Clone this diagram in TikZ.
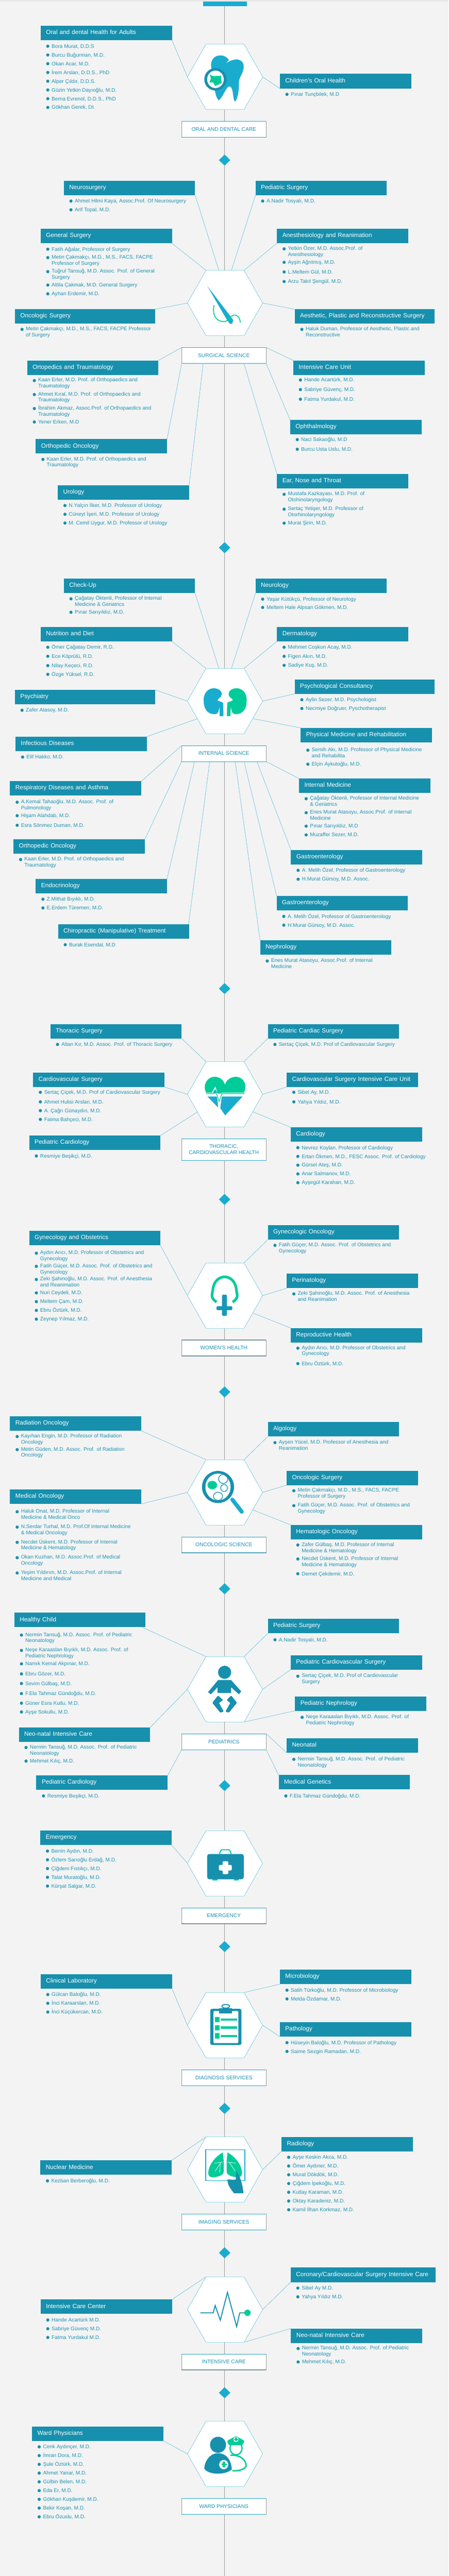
\documentclass[tikz,border=0pt]{standalone}
\usepackage{fontspec}
\setmainfont{Liberation Sans}
\usetikzlibrary{shapes.geometric}
\definecolor{bgc}{HTML}{F3F3F3}
\definecolor{stripc}{HTML}{E8E8E8}
\definecolor{deptc}{HTML}{1790AE}
\definecolor{bluec}{HTML}{1AACCF}
\definecolor{greenc}{HTML}{00CC99}
\definecolor{linkc}{HTML}{5BBFDC}
\definecolor{hexrule}{HTML}{96DBE9}
\definecolor{itemc}{HTML}{1F93B3}
\definecolor{spinec}{HTML}{9A9A9A}
\definecolor{lblrulec}{HTML}{2AA5C8}
\tikzset{
  deptbox/.style={rectangle,fill=deptc,text=white,inner sep=0pt,inner xsep=12.4pt,minimum height=33pt,
    anchor=north west,align=left,text height=9pt,text depth=3pt,font=\fontsize{13.9}{15}\selectfont,outer sep=0pt},
  itemtext/.style={inner sep=0pt,anchor=north west,align=left,text=itemc,font=\fontsize{11.9}{14}\selectfont,outer sep=0pt},
  lblbox/.style={rectangle,fill=white,draw=spinec,line width=.5pt,inner sep=0pt,minimum width=192.8pt,
    align=center,text=itemc,font=\fontsize{12}{14}\selectfont,outer sep=0pt},
  lblrule/.style={draw=lblrulec,line width=1pt},
  hexside/.style={draw=linkc,line width=.7pt},
  hexcap/.style={draw=hexrule,line width=1.5pt},
  link/.style={draw=linkc,line width=.75pt},
  spine/.style={draw=spinec,line width=.55pt},
  diam/.style={diamond,aspect=1,fill=bluec,minimum width=26pt,minimum height=25.4pt,inner sep=0pt,outer sep=0pt},
  iconscope/.style={shift={(0,#1)},y=-0.33333pt},
}
\newcounter{itmc}
\newcommand\dept[5][300pt]{\def\curx{#3}\pgfmathsetlengthmacro\tw{#1-24.8pt}%
  \node[deptbox,minimum width=#1,text width=\tw] (#2) at (#3,{\yo+#4/3}) {\mbox{#5}};}
\newcommand\itm[2]{\stepcounter{itmc}%
  \fill[deptc] ({\curx+25},{\yo+#1/3}) circle[x radius=5.6,y radius=3.7];
  \node[itemtext] (item\theitmc) at ({\curx+38.5},{\yo+#1/3-8}) {\rule{0pt}{12pt}#2};}
\newcommand\itw[3]{\stepcounter{itmc}%
  \fill[deptc] ({\curx+25},{\yo+#1/3+1.3}) circle[x radius=5.6,y radius=3.7];
  \node[itemtext] (item\theitmc) at ({\curx+38.5},{\yo+#1/3-8}) {\rule{0pt}{12pt}#2\\#3};}
\newcommand\hexa[2]{%
  \coordinate (#1-tl) at (720,#2); \coordinate (#1-tr) at (853,#2);
  \coordinate (#1-r) at (918,{#2+74.8}); \coordinate (#1-l) at (655,{#2+74.8});
  \coordinate (#1-bl) at (720,{#2+149.6}); \coordinate (#1-br) at (853,{#2+149.6});
  \coordinate (#1-t) at (785,#2); \coordinate (#1-b) at (785,{#2+149.6});
  \coordinate (#1-tla) at (765,#2); \coordinate (#1-tra) at (809,#2);
  \coordinate (#1-lla) at (690,{#2+115}); \coordinate (#1-lra) at (885,{#2+115});
  \fill[white] (#1-tl)--(#1-tr)--(#1-r)--(#1-br)--(#1-bl)--(#1-l)--cycle;
  \draw[hexside] (#1-tr)--(#1-r)--(#1-br) (#1-bl)--(#1-l)--(#1-tl);
  \draw[hexcap] (#1-tl)--(#1-tr) (#1-bl)--(#1-br);}
\newcommand\lbl[4][36.4pt]{%
  \node[lblbox,minimum height=#1,anchor=north west] (#2) at (635,#3) {#4};
  \draw[lblrule] (#2.north west)--(#2.north east);
  \draw[lblrule] (#2.south west)--(#2.south east);
  \coordinate (#2-t) at (#2.north -| spinex);
  \coordinate (#2-b) at (#2.south -| spinex);}
\newcommand\dia[2]{\node[diam] (#1) at (785,#2) {};}
\newcommand\lnk[2]{\draw[link] (#1)--(#2);}
\begin{document}
\begin{tikzpicture}[x=0.65370pt,y=-1pt]
\path[use as bounding box] (0,0) rectangle (1568,5889);
\fill[bgc] (0,0) rectangle (1568,5889);
\fill[stripc] (0,0) rectangle (1568,4);
\coordinate (spinex) at (785,0);
\coordinate (spinetop) at (785,14);
\coordinate (spinebot) at (785,5889);
\node[rectangle,fill=bluec,minimum width=100pt,minimum height=10pt,inner sep=0pt,outer sep=0pt,anchor=north west] (topbar) at (710,4) {};

% ---------- ORAL
\def\yo{0}
\hexa{h1}{101}
\lbl{l1}{277}{ORAL AND DENTAL CARE}
\dia{d1}{366}
\dept{oraladult}{142}{177}{Oral and dental Health for Adults}
\itm{317}{Bora Murat, D.D.S}
\itm{377}{Burcu Buğurman, M.D.}
\itm{437}{Okan Acar, M.D.}
\itm{497}{İrem Arslan, D.D.S., PhD}
\itm{557}{Alper Çıldır, D.D.S.}
\itm{617}{Güzin Yetkin Dayıoğlu, M.D.}
\itm{677}{Berna Evrenol, D.D.S., PhD}
\itm{737}{Gökhan Gerek, Dt.}
\lnk{oraladult.south east}{h1-l}
\dept{oralchild}{978}{507}{Children's Oral Health}
\itm{647}{Pınar Tunçbilek, M.D}
\lnk{h1-r}{oralchild.south west}
\begin{scope}[iconscope=0]
\fill[bluec] (738,460) .. controls (735,410) and (750,380) .. (770,380) .. controls (785,380) and (795,395) .. (800,412) -- (788,437) .. controls (800,418) and (820,405) .. (830,408) .. controls (850,415) and (855,445) .. (850,480) .. controls (845,520) and (835,530) .. (835,570) .. controls (836,620) and (830,680) .. (822,696) .. controls (812,690) and (818,600) .. (803,592) .. controls (790,590) and (782,660) .. (765,688) .. controls (758,680) and (752,640) .. (750,610) -- cycle;
\fill[deptc] (753,544) circle[x radius=39,y radius=77];
\fill[white] (753,544) circle[x radius=29,y radius=60];
\fill[greenc] (733,512)--(745,522)--(772,520)--(775,570)--(752,590)--(745,565)--(732,565)--(737,540)--cycle;
\end{scope}

% ---------- SURGICAL
\dept{neuro}{223}{1239}{Neurosurgery}
\itm{1379}{Ahmet Hilmi Kaya, Assoc.Prof. Of Neurosurgery}
\itm{1439}{Arif Topal, M.D.}
\dept{pedsurg}{893}{1239}{Pediatric Surgery}
\itm{1379}{A.Nadir Tosyalı, M.D.}
\def\yo{500}
\hexa{h2}{618}
\lbl{l2}{794.3}{SURGICAL SCIENCE}
\lnk{neuro.south east}{h2-tla}
\lnk{pedsurg.south west}{h2-tra}
\dept{gensurg}{142}{69}{General Surgery}
\itm{209}{Fatih Ağalar, Professor of Surgery}
\itw{263}{Metin Çakmakçı, M.D., M.S., FACS, FACPE}{Professor of Surgery}
\itw{359}{Tuğrul Tansuğ, M.D. Assoc. Prof. of General}{Surgery}
\itm{455}{Attila Çakmak, M.D. General Surgery}
\itm{515}{Ayhan Erdemir, M.D.}
\lnk{gensurg.south east}{h2-tl}
\dept{anest}{968}{69}{Anesthesiology and Reanimation}
\itw{203}{Yetkin Özer, M.D. Assoc.Prof. of}{Anesthesiology}
\itm{299}{Ayşin Ağrıtmış, M.D.}
\itm{365}{L.Meltem Gül, M.D.}
\itm{431}{Arzu Takıl Şengül, M.D.}
\lnk{anest.south west}{h2-tr}
\dept[320pt]{oncsurg}{52}{621}{Oncologic Surgery}
\itw{755}{Metin Çakmakçı, M.D., M.S., FACS, FACPE Professor}{of Surgery}
\lnk{oncsurg.north east}{h2-l}
\dept[320pt]{aesth}{1030}{621}{Aesthetic, Plastic and Reconstructive Surgery}
\itw{755}{Haluk Duman, Professor of Aesthetic, Plastic and}{Reconstructive}
\lnk{aesth.north west}{h2-r}
\dept{ortho}{95}{972}{Ortopedics and Traumatology}
\itw{1106}{Kaan Erler, M.D. Prof. of Orthopaedics and}{Traumatology}
\itw{1202}{Ahmet Kıral, M.D. Prof. of Orthopaedics and}{Traumatology}
\itw{1298}{İbrahim Akmaz, Assoc.Prof. of Orthopaedics and}{Traumatology}
\itm{1394}{Yener Erken, M.D}
\lnk{ortho.north east}{l2.north west}
\dept{icu}{1025}{972}{Intensive Care Unit}
\itm{1106}{Hande Acartürk, M.D.}
\itm{1172}{Sabriye Güvenç, M.D.}
\itm{1238}{Fatma Yurdakul, M.D.}
\lnk{icu.north west}{l2.north east}
\dept{ophth}{1014}{1380}{Ophthalmology}
\itm{1515}{Naci Sakaoğlu, M.D}
\itm{1581}{Burcu Usta Uslu, M.D.}
\lnk{ophth.north west}{l2.south east}
\def\yo{1000}
\dept{orthonc}{125}{12}{Orthopedic Oncology}
\itw{147}{Kaan Erler, M.D. Prof. of Orthopaedics and}{Traumatology}
\lnk{orthonc.north east}{l2.south west}
\dept{urology}{202}{327}{Urology}
\itm{467}{N.Yalçın İlker, M.D. Professor of Urology}
\itm{527}{Cüneyt İşeri, M.D. Professor of Urology}
\itm{587}{M. Cemil Uygur, M.D. Professor of Urology}
\coordinate (l2-p1) at (710,831);
\coordinate (l2-p2) at (853,831);
\lnk{urology.north east}{l2-p1}
\dept{ent}{968}{252}{Ear, Nose and Throat}
\itw{386}{Mustafa Kazkayası, M.D. Prof. of}{Otohinolaryngology}
\itw{488}{Sertaç Yetişer, M.D. Professor of}{Otorhinolaryngology}
\itm{588}{Murat Şirin, M.D.}
\lnk{ent.north west}{l2-p2}
\begin{scope}[iconscope=500]
\fill[bluec] (725,463)--(800,655)--(815,695)--(812,718)--(805,722)--(795,700)--cycle;
\draw[greenc,line width=2pt,line cap=round] (748,595) .. controls (742,650) and (750,705) .. (785,706) .. controls (795,706) and (797,680) .. (815,662) .. controls (830,655) and (838,680) .. (840,710);
\end{scope}

% ---------- INTERNAL
\dia{d2}{1252}
\dept{checkup}{223}{969}{Check-Up}
\itw{1103}{Çağatay Öktenli, Professor of Internal}{Medicine \& Geriatrics}
\itm{1199}{Pınar Sarıyıldız, M.D.}
\dept{neurol}{893}{969}{Neurology}
\itm{1109}{Yaşar Kütükçü, Professor of Neurology}
\itm{1166}{Meltem Hale Alpsan Gökmen, M.D.}
\dept{nutri}{142}{1299}{Nutrition and Diet}
\itm{1439}{Ömer Çağatay Demir, R.D.}
\itm{1501}{Ece Köprülü, R.D.}
\itm{1565}{Nilay Keçeci, R.D.}
\itm{1625}{Özge Yüksel, R.D.}
\dept{derma}{968}{1299}{Dermatology}
\itm{1439}{Mehmet Coşkun Acay, M.D.}
\itm{1501}{Figen Akın, M.D.}
\itm{1563}{Sadiye Kuş, M.D.}
\def\yo{1500}
\hexa{h3}{1528}
\lbl{l3}{1704.3}{INTERNAL SCIENCE}
\lnk{checkup.south east}{h3-tla}
\lnk{neurol.south west}{h3-tra}
\lnk{nutri.south east}{h3-tl}
\lnk{derma.south west}{h3-tr}
\dept[320pt]{psycons}{1030}{159}{Psychological Consultancy}
\itm{299}{Aylin Sezer, M.D. Psychologist}
\itm{359}{Necmiye Doğruer, Pyschotherapist}
\lnk{psycons.south west}{h3-r}
\dept[320pt]{psychia}{52}{231}{Psychiatry}
\itm{371}{Zafer Atasoy, M.D.}
\lnk{psychia.north east}{h3-l}
\dept{physmed}{1051}{492}{Physical Medicine and Rehabilitation}
\itw{641}{Semih Akı, M.D. Professor of Physical Medicine}{and Rehabilita}
\itm{741}{Elçin Aykutoğlu, M.D.}
\lnk{physmed.north west}{h3-lra}
\dept{infect}{54}{552}{Infectious Diseases}
\itm{692}{Elif Hakko, M.D.}
\lnk{infect.north east}{h3-lla}
\dept{respir}{35}{858}{Respiratory Diseases and Asthma}
\itw{998}{A.Kemal Tahaoğlu, M.D. Assoc. Prof. of}{Pulmonology}
\itm{1094}{Hişam Alahdab, M.D.}
\itm{1160}{Esra Sönmez Duman, M.D.}
\lnk{respir.north east}{l3.north west}
\dept{intmed}{1045}{840}{Internal Medicine}
\itw{974}{Çağatay Öktenli, Professor of Internal Medicine}{\& Geriatrics}
\itw{1070}{Enes Murat Atasoyu, Assoc.Prof. of Internal}{Medicine}
\itm{1166}{Pınar Sarıyıldız, M.D}
\itm{1226}{Muzaffer Sezer, M.D.}
\lnk{intmed.north west}{l3.south east}
\dept{orthonctwo}{47}{1257}{Orthopedic Oncology}
\itw{1391}{Kaan Erler, M.D. Prof. of Orthopaedics and}{Traumatology}
\lnk{orthonctwo.north east}{l3.south west}
\dept{gastro}{1017}{1329}{Gastroenterology}
\itm{1469}{A. Melih Özel, Professor of Gastroenterology}
\itm{1530}{H.Murat Gürsoy, M.D. Assoc.}
\coordinate (l3-p1) at (898,1741);
\coordinate (l3-p2) at (680,1741);
\coordinate (l3-p3) at (733,1741);
\coordinate (l3-p4) at (853,1741);
\coordinate (l3-p5) at (822,1741);
\lnk{gastro.north west}{l3-p1}
\def\yo{2000}
\dept{endo}{125}{27}{Endocrinology}
\itm{167}{Z.Mithat Bıyıklı, M.D.}
\itm{227}{E.Erdem Türemen, M.D.}
\lnk{endo.north east}{l3-p2}
\dept{chiro}{203}{339}{Chiropractic (Manipulative) Treatment}
\itm{479}{Burak Esendal, M.D}
\coordinate (chiro-a) at (659,2113);
\lnk{chiro-a}{l3-p3}
\dept{gastrotwo}{967}{144}{Gastroenterology}
\itm{285}{A. Melih Özel, Professor of Gastroenterology}
\itm{345}{H.Murat Gürsoy, M.D. Assoc.}
\lnk{gastrotwo.north west}{l3-p4}
\dept{nephro}{909}{447}{Nephrology}
\itw{587}{Enes Murat Atasoyu, Assoc.Prof. of Internal}{Medicine}
\lnk{nephro.north west}{l3-p5}
\begin{scope}[iconscope=1500]
\fill[bluec] (745,220) .. controls (720,225) and (710,270) .. (712,310) .. controls (712,360) and (725,398) .. (750,398) .. controls (762,398) and (764,385) .. (767,345) -- (768,412) -- (781,412) -- (780,322) .. controls (778,312) and (765,312) .. (760,302) .. controls (760,290) and (775,285) .. (775,262) .. controls (775,235) and (762,220) .. (745,220) -- cycle;
\fill[greenc] (829,220) .. controls (854,225) and (864,270) .. (862,310) .. controls (862,360) and (849,398) .. (824,398) .. controls (812,398) and (810,385) .. (807,345) -- (805,412) -- (793,412) -- (794,322) .. controls (796,312) and (809,312) .. (814,302) .. controls (814,290) and (799,285) .. (799,262) .. controls (799,235) and (812,220) .. (829,220) -- cycle;
\end{scope}

% ---------- THORACIC
\dia{d3}{2260}
\hexa{h4}{2427}
\lbl[49.4pt]{l4}{2603.3}{THORACIC,\\CARDIOVASCULAR HEALTH}
\dept{thorac}{176}{1023}{Thoracic Surgery}
\itm{1163}{Altan Kır, M.D. Assoc. Prof. of Thoracic Surgery}
\lnk{thorac.south east}{h4-tl}
\dept{pedcard}{936}{1023}{Pediatric Cardiac Surgery}
\itm{1163}{Sertaç Çiçek, M.D. Prof of Cardiovascular Surgery}
\lnk{pedcard.south west}{h4-tr}
\dept{cvs}{116}{1356}{Cardiovascular Surgery}
\itm{1491}{Sertaç Çiçek, M.D. Prof of Cardiovascular Surgery}
\itm{1557}{Ahmet Hulisi Arslan, M.D.}
\itm{1617}{A. Çağrı Günaydın, M.D.}
\itm{1677}{Fatma Bahçeci, M.D.}
\lnk{cvs.south east}{h4-l}
\dept{cvsicu}{1002}{1356}{Cardiovascular Surgery Intensive Care Unit}
\itm{1491}{Sibel Ay, M.D.}
\itm{1557}{Yahya Yıldız, M.D.}
\lnk{cvsicu.south west}{h4-r}
\begin{scope}[iconscope=2000]
\fill[greenc] (722,1500) .. controls (705,1440) and (725,1385) .. (750,1385) .. controls (770,1385) and (782,1410) .. (786,1440) .. controls (790,1410) and (805,1385) .. (825,1385) .. controls (850,1385) and (868,1440) .. (851,1500) -- cycle;
\fill[bluec] (725,1520)--(760,1520)--(762,1595)--cycle;
\fill[bluec] (775,1520)--(848,1520)--(787,1650)--(770,1600)--cycle;
\draw[white,line width=3.5pt,line join=miter] (712,1500)--(742,1500)--(752,1465)--(766,1560)--(777,1500)--(862,1500);
\draw[greenc,line width=1.5pt] (720,1500)--(745,1500)--(752,1475)--(766,1555)--(776,1500)--(855,1500);
\fill[bluec] (752,1468)--(744,1495)--(759,1495)--cycle;
\end{scope}
\def\yo{2500}
\dept{pedcardio}{102}{288}{Pediatric Cardiology}
\itm{428}{Resmiye Beşikçi, M.D.}
\lnk{pedcardio.north east}{h4-lla}
\dept{cardio}{1016}{231}{Cardiology}
\itm{371}{Nevrez Koylan, Professor of Cardiology}
\itm{431}{Ertan Ökmen, M.D., FESC Assoc. Prof. of Cardiology}
\itm{491}{Gürsel Ateş, M.D.}
\itm{551}{Anar Salmanov, M.D.}
\itm{611}{Ayşegül Karahan, M.D.}
\lnk{cardio.north west}{h4-lra}

% ---------- WOMEN
\dia{d4}{2742}
\hexa{h5}{2887}
\lbl{l5}{3063.3}{WOMEN'S HEALTH}
\dept{gynonc}{936}{903}{Gynecologic Oncology}
\itw{1037}{Fatih Güçer, M.D. Assoc. Prof. of Obstetrics and}{Gynecology}
\lnk{gynonc.south west}{h5-tr}
\dept{gyn}{102}{942}{Gynecology and Obstetrics}
\itw{1091}{Aydın Arıcı, M.D. Professor of Obstetrics and}{Gynecology}
\itw{1181}{Fatih Güçer, M.D. Assoc. Prof. of Obstetrics and}{Gynecology}
\itw{1271}{Zeki Şahinoğlu, M.D. Assoc. Prof. of Anesthesia}{and Reanimation}
\itm{1367}{Nuri Ceydeli, M.D.}
\itm{1427}{Meltem Çam, M.D.}
\itm{1487}{Ebru Öztürk, M.D.}
\itm{1547}{Zeynep Yılmaz, M.D.}
\lnk{gyn.south east}{h5-l}
\dept{perin}{1002}{1236}{Perinatology}
\itw{1370}{Zeki Şahinoğlu, M.D. Assoc. Prof. of Anesthesia}{and Reanimation}
\lnk{perin.south west}{h5-r}
\begin{scope}[iconscope=2500]
\draw[greenc,line width=6pt] (757,1430) .. controls (735,1400) and (741,1385) .. (744,1345) .. controls (746,1290) and (765,1257) .. (785,1257) .. controls (805,1257) and (824,1290) .. (826,1345) .. controls (829,1385) and (835,1400) .. (813,1430);
\fill[deptc!70!bluec,rounded corners=2pt] (776,1380) rectangle (793,1524);
\fill[deptc!70!bluec,rounded corners=2pt] (757,1458) rectangle (812,1485);
\end{scope}
\def\yo{3000}
\dept{repro}{1016}{108}{Reproductive Health}
\itw{242}{Aydın Arıcı, M.D. Professor of Obstetrics and}{Gynecology}
\itm{352}{Ebru Öztürk, M.D.}
\lnk{repro.north west}{h5-lra}

% ---------- ONCOLOGIC
\dia{d5}{3182}
\hexa{h6}{3337}
\lbl{l6}{3513.3}{ONCOLOGIC SCIENCE}
\dept{radonc}{35}{714}{Radiation Oncology}
\itw{848}{Kayıhan Engin, M.D. Professor of Radiation}{Oncology}
\itw{938}{Metin Güden, M.D. Assoc. Prof. of Radiation}{Oncology}
\lnk{radonc.south east}{h6-tl}
\dept{algo}{936}{753}{Algology}
\itw{890}{Ayşen Yücel, M.D. Professor of Anesthesia and}{Reanimation}
\lnk{algo.south west}{h6-tr}
\dept{oncsurgtwo}{1002}{1086}{Oncologic Surgery}
\itw{1220}{Metin Çakmakçı, M.D., M.S., FACS, FACPE}{Professor of Surgery}
\itw{1322}{Fatih Güçer, M.D. Assoc. Prof. of Obstetrics and}{Gynecology}
\lnk{oncsurgtwo.south west}{h6-r}
\dept{medonc}{35}{1215}{Medical Oncology}
\itw{1364}{Haluk Onat, M.D. Professor of Internal}{Medicine \& Medical Onco}
\itw{1469}{N.Serdar Turhal, M.D. Prof.Of Internal Medicine}{\& Medical Oncology}
\itw{1574}{Necdet Üskent, M.D. Professor of Internal}{Medicine \& Hematology}
\itw{1679}{Okan Kuzhan, M.D. Assoc.Prof. of Medical}{Oncology}
\itw{1784}{Yeşim Yıldırım, M.D. Assoc.Prof. of Internal}{Medicine and Medical}
\lnk{medonc.south east}{h6-l}
\dept{hemonc}{1016}{1458}{Hematologic Oncology}
\itw{1592}{Zafer Gülbaş, M.D. Professor of Internal}{Medicine \& Hematology}
\itw{1688}{Necdet Üskent, M.D. Professor of Internal}{Medicine \& Hematology}
\itm{1793}{Demet Çekdemir, M.D.}
\lnk{hemonc.north west}{h6-lra}
\begin{scope}[iconscope=3000]
\draw[bluec,line width=9pt,line cap=round] (812,1285)--(845,1368);
\fill[deptc] (762,1198) circle[x radius=56,y radius=110];
\fill[white] (762,1198) circle[x radius=44,y radius=92];
\begin{scope}
\clip (762,1198) circle[x radius=44,y radius=92];
\draw[deptc!70!bluec,line width=1.6pt] (780,1143) circle[x radius=16,y radius=31];
\draw[deptc!70!bluec,line width=1.6pt] (783,1205) circle[x radius=12,y radius=24];
\draw[deptc!70!bluec,line width=1.6pt] (762,1262) circle[x radius=16,y radius=28];
\end{scope}
\fill[greenc] (742,1185) circle[x radius=17,y radius=29];
\end{scope}

% ---------- PEDIATRICS
\def\yo{3500}
\dia{d6}{3632}
\hexa{h7}{3787}
\lbl{l7}{3963.3}{PEDIATRICS}
\dept{healthy}{50}{561}{Healthy Child}
\itw{710}{Nermin Tansuğ, M.D. Assoc. Prof. of Pediatric}{Neonatology}
\itw{815}{Neşe Karaaslan Bıyıklı, M.D. Assoc. Prof. of}{Pediatric Nephrology}
\itm{911}{Namık Kemal Akpınar, M.D.}
\itm{980}{Ebru Gözer, M.D.}
\itm{1046}{Sevim Gülbaş, M.D.}
\itm{1115}{F.Ela Tahmaz Gündoğdu, M.D.}
\itm{1181}{Güner Esra Kutlu, M.D.}
\itm{1241}{Ayşe Sokullu, M.D.}
\coordinate (healthy-a) at (497,3720);
\lnk{healthy-a}{h7-tl}
\dept{pedsurgtwo}{936}{603}{Pediatric Surgery}
\itm{746}{A.Nadir Tosyalı, M.D.}
\lnk{pedsurgtwo.south west}{h7-tr}
\dept{pedcvs}{1016}{852}{Pediatric Cardiovascular Surgery}
\itw{992}{Sertaç Çiçek, M.D. Prof of Cardiovascular}{Surgery}
\lnk{pedcvs.south west}{h7-r}
\dept{pednep}{1031}{1134}{Pediatric Nephrology}
\itw{1274}{Neşe Karaaslan Bıyıklı, M.D. Assoc. Prof. of}{Pediatric Nephrology}
\lnk{pednep.south west}{h7-br}
\dept{neoicu}{66}{1347}{Neo-natal Intensive Care}
\itw{1481}{Nermin Tansuğ, M.D. Assoc. Prof. of Pediatric}{Neonatology}
\itm{1578}{Mehmet Kılıç, M.D.}
\lnk{neoicu.north east}{h7-l}
\dept{neonatal}{1002}{1422}{Neonatal}
\itw{1562}{Nermin Tansuğ, M.D. Assoc. Prof. of Pediatric}{Neonatology}
\lnk{l7.north east}{neonatal.south west}
\begin{scope}[iconscope=3500]
\fill[deptc] (785,969) circle[x radius=23,y radius=45];
\fill[deptc] (762,1023)--(808,1023)--(843,1100)--(835,1120)--(808,1072)--(808,1110)--(760,1110)--(760,1072)--(737,1120)--(727,1105)--cycle;
\fill[deptc,rounded corners=1.5pt] (762,1128)--(742,1178)--(770,1246)--(782,1238)--(765,1178)--(780,1160)--cycle;
\fill[deptc,rounded corners=1.5pt] (808,1128)--(828,1178)--(800,1246)--(788,1238)--(805,1178)--(792,1160)--cycle;
\end{scope}
\def\yo{4000}
\dept{genet}{974}{174}{Medical Genetics}
\itm{317}{F.Ela Tahmaz Gündoğdu, M.D.}
\lnk{genet.north west}{l7.south east}
\dept{pedcardtwo}{127}{177}{Pediatric Cardiology}
\itm{317}{Resmiye Beşikçi, M.D.}
\lnk{pedcardtwo.north east}{l7.south west}

% ---------- EMERGENCY
\dia{d7}{4082}
\hexa{h8}{4185}
\lbl{l8}{4361.3}{EMERGENCY}
\dia{d8}{4450}
\dept{emerg}{141}{555}{Emergency}
\itm{695}{Berrin Aydın, M.D.}
\itm{755}{Özlem Sarıoğlu Erdağ, M.D.}
\itm{815}{Çiğdem Fıstıkçı, M.D.}
\itm{875}{Talat Muratoğlu, M.D.}
\itm{935}{Kürşat Salgar, M.D.}
\lnk{emerg.south east}{h8-l}
\begin{scope}[iconscope=4000]
\draw[greenc,line width=2.4pt,rounded corners=3pt] (767,715)--(772,686)--(803,686)--(808,715);
\fill[greenc] (743,885) rectangle (760,897);
\fill[greenc] (818,885) rectangle (835,897);
\fill[deptc,rounded corners=5pt] (724,715) rectangle (852,888);
\fill[white,rounded corners=2pt] (778,765) rectangle (798,853);
\fill[white,rounded corners=2pt] (765,790) rectangle (810,828);
\end{scope}

% ---------- DIAGNOSIS
\def\yo{4500}
\hexa{h9}{4555}
\lbl{l9}{4731.3}{DIAGNOSIS SERVICES}
\dia{d9}{4820}
\dept{clinlab}{142}{39}{Clinical Laboratory}
\itm{179}{Gülcan Baloğlu, M.D.}
\itm{239}{İnci Karaarslan, M.D.}
\itm{299}{İnci Küçükercan, M.D.}
\lnk{clinlab.south east}{h9-l}
\dept{micro}{978}{9}{Microbiology}
\itm{149}{Salih Türkoğlu, M.D. Professor of Microbiology}
\itm{209}{Melda Özdamar, M.D.}
\lnk{micro.south west}{h9-tr}
\dept{patho}{978}{369}{Pathology}
\itm{509}{Hüseyin Baloğlu, M.D. Professor of Pathology}
\itm{569}{Saime Sezgin Ramadan, M.D.}
\lnk{patho.south west}{h9-r}
\begin{scope}[iconscope=4500]
\draw[deptc,line width=2.2pt] (789,272) .. controls (770,272) and (772,247) .. (789,247) .. controls (806,247) and (808,272) .. (789,272);
\fill[deptc,rounded corners=4pt] (735,277) rectangle (844,525);
\fill[white,rounded corners=2pt] (746,292) rectangle (833,512);
\fill[deptc] (766,272) rectangle (811,310);
\fill[greenc] (751,332) rectangle (767,368);
\fill[greenc] (751,388) rectangle (767,424);
\fill[greenc] (751,444) rectangle (767,480);
\fill[greenc] (771,342) rectangle (828,358);
\fill[greenc] (771,398) rectangle (828,414);
\fill[greenc] (771,455) rectangle (828,471);
\end{scope}

% ---------- IMAGING
\hexa{h10}{4885}
\lbl{l10}{5061.3}{IMAGING SERVICES}
\dia{d10}{5150}
\dept{radio}{984}{1155}{Radiology}
\itm{1295}{Ayşe Keskin Akca, M.D.}
\itm{1355}{Ömer Aydıner, M.D.}
\itm{1415}{Murat Dökdök, M.D.}
\itm{1475}{Çiğdem İpekoğlu, M.D.}
\itm{1535}{Kutlay Karaman, M.D.}
\itm{1595}{Oktay Karadeniz, M.D.}
\itm{1655}{Kamil İlhan Korkmaz, M.D.}
\lnk{radio.south west}{h10-r}
\dept{nuclear}{141}{1317}{Nuclear Medicine}
\itm{1457}{Kezban Berberoğlu, M.D.}
\lnk{nuclear.north east}{h10-tl}
\begin{scope}[iconscope=4500]
\fill[white] (719,1244) rectangle (856,1454);
\draw[bluec,line width=1.5pt] (719,1244) rectangle (856,1454);
\fill[greenc] (779,1262) .. controls (752,1290) and (728,1350) .. (728,1405) .. controls (728,1425) and (735,1435) .. (750,1432) .. controls (770,1425) and (782,1415) .. (782,1390) -- (782,1325) -- cycle;
\fill[greenc] (795,1262) .. controls (822,1290) and (846,1350) .. (846,1405) .. controls (846,1425) and (839,1435) .. (824,1432) .. controls (804,1425) and (792,1415) .. (792,1390) -- (792,1325) -- cycle;
\draw[white,line width=.8pt] (780,1328)--(750,1335) (772,1332)--(752,1390) (770,1340)--(768,1400);
\draw[white,line width=.8pt] (794,1328)--(824,1335) (802,1332)--(822,1390);
\fill[deptc] (826,1387) .. controls (838,1420) and (848,1480) .. (851,1542) -- (818,1542) .. controls (808,1515) and (795,1490) .. (795,1447) .. controls (805,1447) and (818,1452) .. (824,1447) -- cycle;
\end{scope}

% ---------- INTENSIVE
\def\yo{5000}
\hexa{h11}{5205}
\lbl{l11}{5381.3}{INTENSIVE CARE}
\dia{d11}{5470}
\dept[331pt]{coronary}{1016}{552}{Coronary/Cardiovascular Surgery Intensive Care}
\itm{692}{Sibel Ay M.D.}
\itm{752}{Yahya Yıldız M.D.}
\lnk{coronary.south west}{h11-r}
\dept{iccenter}{142}{771}{Intensive Care Center}
\itm{911}{Hande Acartürk M.D.}
\itm{971}{Sabriye Güvenç M.D.}
\itm{1031}{Fatma Yurdakul M.D.}
\lnk{iccenter.north east}{h11-tl}
\dept{neoicutwo}{1017}{969}{Neo-natal Intensive Care}
\itw{1103}{Nermin Tansuğ, M.D. Assoc. Prof. of Pediatric}{Neonatology}
\itm{1199}{Mehmet Kılıç, M.D.}
\lnk{neoicutwo.north west}{h11-br}
\begin{scope}[iconscope=5000]
\draw[deptc,line width=2.2pt,line join=miter,miter limit=10] (700,862)--(745,862)--(752,812)--(770,912)--(795,722)--(827,956)--(838,862)--(855,862);
\fill[greenc] (865,862) circle[x radius=11,y radius=22];
\end{scope}

% ---------- WARD
\def\yo{5400}
\hexa{h12}{5535}
\lbl{l12}{5711.3}{WARD PHYSICIANS}
\dept{ward}{112}{441}{Ward Physicians}
\itm{581}{Cenk Aydınçer, M.D.}
\itm{641}{İmran Dora, M.D.}
\itm{701}{Şule Öztürk, M.D.}
\itm{761}{Ahmet Yanar, M.D.}
\itm{821}{Gülbin Belen, M.D.}
\itm{881}{Eda Er, M.D.}
\itm{941}{Gökhan Kuşdemir, M.D.}
\itm{1001}{Bekir Koşan, M.D.}
\itm{1061}{Ebru Özuslu, M.D.}
\lnk{ward.south east}{h12-l}
\begin{scope}[iconscope=5400]
\fill[deptc] (762,567) circle[x radius=28,y radius=55];
\fill[deptc] (762,625) .. controls (800,625) and (810,700) .. (810,735) .. controls (800,755) and (780,765) .. (762,765) .. controls (742,765) and (722,755) .. (714,730) .. controls (714,690) and (730,625) .. (762,625) -- cycle;
\fill[white] (782,703) circle[x radius=16,y radius=32];
\fill[greenc] (778,684) rectangle (787,722);
\fill[greenc] (774,698) rectangle (792,708);
\draw[greenc,line width=3pt] (825,590) circle[x radius=21,y radius=46];
\draw[greenc,line width=3.2pt] (805,638) .. controls (845,635) and (862,680) .. (860,715) .. controls (855,735) and (835,748) .. (812,745);
\fill[greenc,rounded corners=2pt] (793,540)--(825,507)--(855,540)--(847,570)--(800,570)--cycle;
\fill[white] (825,530) circle[x radius=9,y radius=18];
\fill[greenc] (822,518) rectangle (828,542);
\fill[greenc] (818,527) rectangle (832,533);
\end{scope}

% ---------- spine
\foreach \a/\b in {spinetop/h1-t,h1-b/l1-t,l1-b/d1.north,d1.south/h2-t,h2-b/l2-t,l2-b/d2.north,d2.south/h3-t,h3-b/l3-t,l3-b/d3.north,d3.south/h4-t,h4-b/l4-t,l4-b/d4.north,d4.south/h5-t,h5-b/l5-t,l5-b/d5.north,d5.south/h6-t,h6-b/l6-t,l6-b/d6.north,d6.south/h7-t,h7-b/l7-t,l7-b/d7.north,d7.south/h8-t,h8-b/l8-t,l8-b/d8.north,d8.south/h9-t,h9-b/l9-t,l9-b/d9.north,d9.south/h10-t,h10-b/l10-t,l10-b/d10.north,d10.south/h11-t,h11-b/l11-t,l11-b/d11.north,d11.south/h12-t,h12-b/l12-t,l12-b/spinebot}
  {\draw[spine] (\a)--(\b);}
\end{tikzpicture}
\end{document}
